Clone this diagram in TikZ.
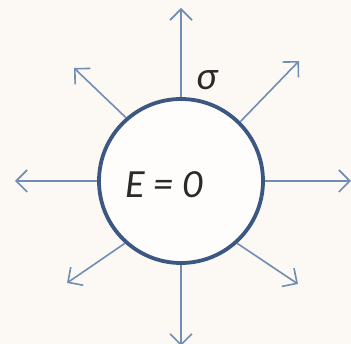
\documentclass[tikz,border=0pt]{standalone}
\usepackage{fontspec}
\setmainfont{Carlito}
\usetikzlibrary{arrows.meta}
\definecolor{bgc}{HTML}{FCF9F4}
\definecolor{arr}{HTML}{6F8DB5}
\definecolor{ring}{HTML}{3B5782}
\definecolor{txt}{HTML}{2A2A2A}
\begin{document}
\begin{tikzpicture}[x=1pt,y=-1pt,
  field/.style={draw=arr,line width=1.6pt,-{Straight Barb[length=11pt,width=22pt,line width=1.6pt]}},
  lbl/.style={text=txt,font=\fontsize{40}{44}\selectfont\itshape,inner sep=0pt}]
\fill[bgc] (0,0) rectangle (351,344);
\useasboundingbox (0,0) rectangle (351,344);
\coordinate (c) at (181,181);
\node[circle,draw=ring,line width=3.8pt,minimum size=164pt,inner sep=0pt,fill=white!60!bgc] (ring) at (c) {};
\coordinate (t1) at (181,8);
\coordinate (t2) at (299,61);
\coordinate (t3) at (351,181);
\coordinate (t4) at (298,284);
\coordinate (t5) at (181,346);
\coordinate (t6) at (67,283);
\coordinate (t7) at (15,181);
\coordinate (t8) at (74,68);
\foreach \a/\t in {90/t1,45/t2,0/t3,-48/t4,-90/t5,228/t6,180/t7,131/t8}
  \draw[field] (ring.\a) -- (\t);
\node[lbl] (e) at (164,185) {E = 0};
\node[lbl] (s) at (207,80) {σ};
\end{tikzpicture}
\end{document}
